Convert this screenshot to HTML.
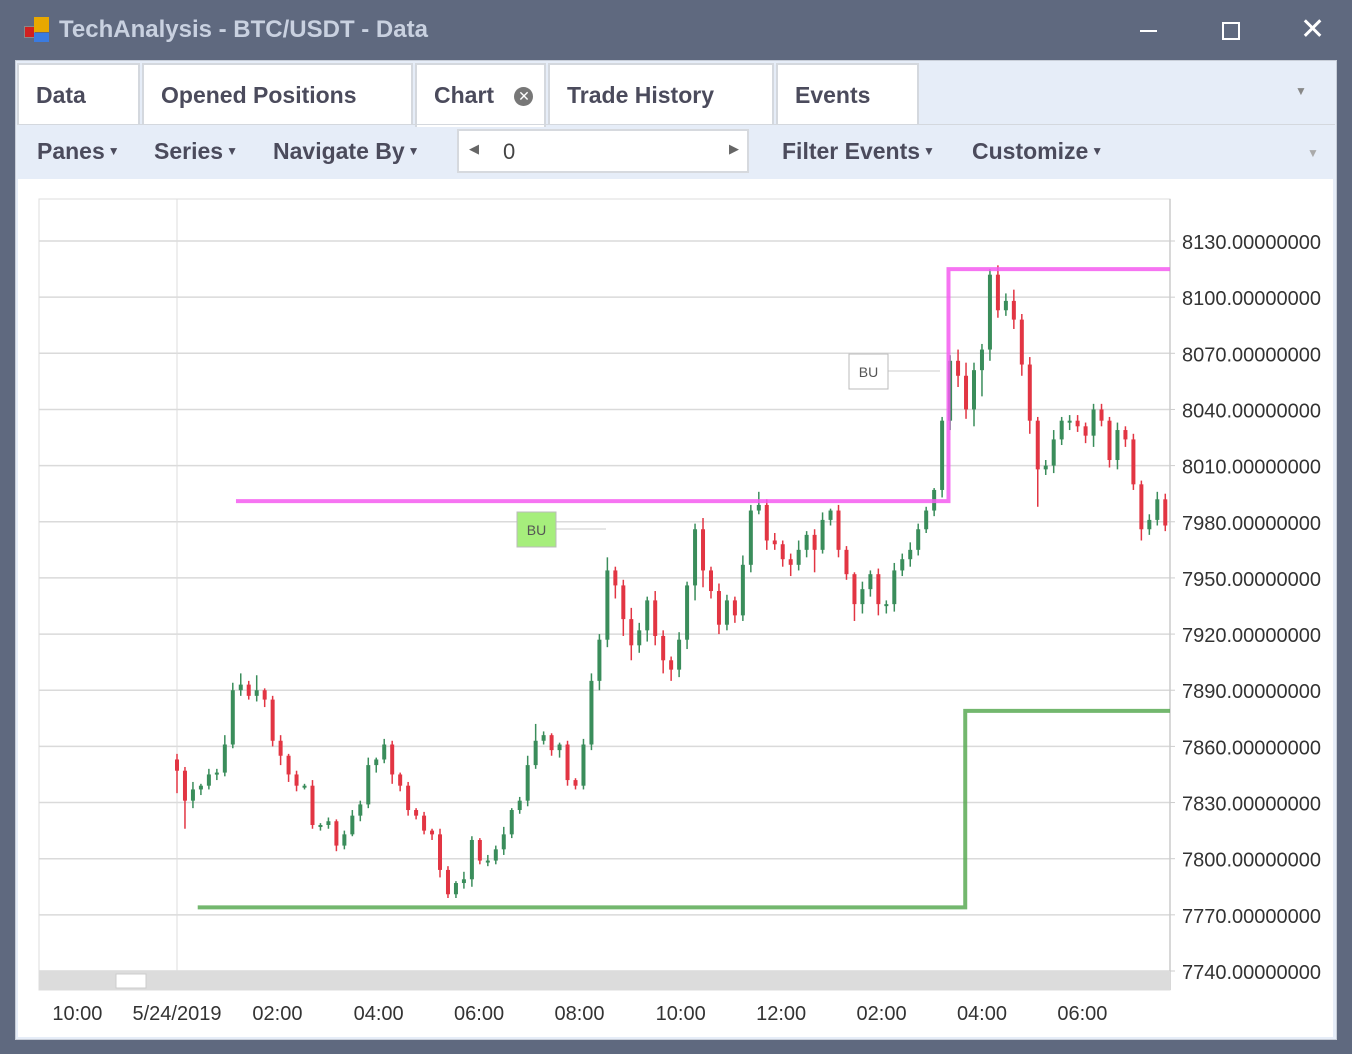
<!DOCTYPE html>
<html><head><meta charset="utf-8"><style>
body{margin:0;width:1352px;height:1054px;background:#5f697f;font-family:"Liberation Sans","DejaVu Sans",sans-serif;position:relative;overflow:hidden}
.abs{position:absolute}
.title{left:59px;top:16px;font-size:24px;font-weight:bold;color:#c9d1e0}
.panel{left:15px;top:60px;width:1322px;height:980px;background:#e6edf8;border:1px solid #c8ced8;box-sizing:border-box}
.tab{top:63px;height:62px;background:#fff;border:2px solid #d4d8de;border-bottom:none;box-sizing:border-box;font-size:23px;font-weight:bold;color:#4b4b5c;padding:17px 0 0 17px}
.tb{top:138px;font-size:23px;font-weight:bold;color:#4b4b5c}
.tb .c{font-size:12px;vertical-align:4px;margin-left:3px}
</style></head><body>
<div class="abs" style="left:24px;top:17px;width:26px;height:26px">
<div class="abs" style="left:0;top:9px;width:9px;height:10px;background:#d02020;border:1px solid #888"></div>
<div class="abs" style="left:10px;top:0;width:15px;height:15px;background:#e8a800"></div>
<div class="abs" style="left:10px;top:16px;width:15px;height:9px;background:#3a7be0"></div></div>
<div class="abs title">TechAnalysis - BTC/USDT - Data</div>
<div class="abs" style="left:1140px;top:30px;width:17px;height:2px;background:#fff"></div>
<div class="abs" style="left:1222px;top:22px;width:14px;height:14px;border:2px solid #fff"></div>
<div class="abs" style="left:1300px;top:12px;font-size:30px;color:#fff">✕</div>
<div class="abs panel"></div>
<div class="abs tab" style="left:17px;width:123px">Data</div>
<div class="abs tab" style="left:142px;width:271px">Opened Positions</div>
<div class="abs tab" style="left:415px;width:131px;height:64px">Chart <span style="display:inline-block;width:19px;height:19px;border-radius:50%;background:#777;color:#fff;font-size:14px;text-align:center;line-height:19px;margin-left:14px;vertical-align:2px">✕</span></div>
<div class="abs tab" style="left:548px;width:226px">Trade History</div>
<div class="abs tab" style="left:776px;width:143px">Events</div>
<div class="abs" style="left:1295px;top:84px;font-size:12px;color:#888">▼</div>
<div class="abs" style="left:17px;top:124px;width:1318px;height:1px;background:#d4d8de"></div>
<div class="abs tb" style="left:37px">Panes<span class="c">▼</span></div>
<div class="abs tb" style="left:154px">Series<span class="c">▼</span></div>
<div class="abs tb" style="left:273px">Navigate By<span class="c">▼</span></div>
<div class="abs" style="left:457px;top:129px;width:292px;height:44px;background:#fff;border:2px solid #d6d9de;box-sizing:border-box">
<span class="abs" style="left:10px;top:10px;font-size:13px;color:#666">◀</span>
<span class="abs" style="left:44px;top:8px;font-size:22px;color:#444">0</span>
<span class="abs" style="left:270px;top:10px;font-size:13px;color:#666">▶</span></div>
<div class="abs tb" style="left:782px">Filter Events<span class="c">▼</span></div>
<div class="abs tb" style="left:972px">Customize<span class="c">▼</span></div>
<div class="abs" style="left:1307px;top:146px;font-size:12px;color:#aaa">▼</div>
<div class="abs" style="left:18px;top:179px;width:1315px;height:858px;background:#fff"></div>
<svg class="abs" style="left:0;top:0" width="1352" height="1054" id="svg"></svg>
<script>
const yTicks=[8130,8100,8070,8040,8010,7980,7950,7920,7890,7860,7830,7800,7770,7740];
const xTickLabels=["10:00","5/24/2019","02:00","04:00","06:00","08:00","10:00","12:00","02:00","04:00","06:00"];
const xTickIndex=[-12.5,0,12.6,25.3,37.9,50.5,63.2,75.8,88.4,101,113.6];
const closes=[7847,7831,7837,7839,7845,7846,7861,7890,7893,7887,7890,7885,7863,7855,7845,7839,7839,7818,7818,7820,7807,7813,7823,7829,7850,7853,7861,7845,7839,7826,7823,7815,7813,7794,7781,7787,7789,7810,7799,7799,7805,7813,7826,7831,7850,7863,7866,7858,7861,7842,7839,7861,7895,7917,7954,7946,7928,7914,7922,7938,7919,7906,7901,7917,7946,7976,7954,7943,7925,7938,7930,7957,7986,7989,7970,7968,7960,7957,7965,7973,7965,7981,7986,7965,7952,7936,7944,7952,7936,7936,7954,7960,7965,7976,7986,7997,8034,8066,8058,8040,8061,8072,8112,8093,8098,8088,8064,8034,8008,8010,8024,8034,8034,8031,8026,8040,8034,8013,8029,8024,8000,7976,7981,7992,7978];
const firstOpen=7853;
const upWick=[3,2,4,1,3,2,5,4,6,2,8,1,2,3,1,2,1,3,1,2,1,2,3,2,4,1,3,2,1,2,1,2,1,3,2,1,4,2,1,3,2,4,1,2,5,9,2,1,1,2,1,3,4,3,7,2,3,6,4,2,5,3,2,4,2,3,6,2,4,3,2,5,3,7,3,4,2,3,5,2,3,4,1,3,2,1,4,2,3,2,4,3,4,3,2,1,2,3,6,7,4,3,3,5,4,6,3,4,2,3,5,2,3,3,2,3,3,2,4,2,3,2,3,4,3];
const dnWick=[12,15,4,3,2,3,2,2,3,2,3,4,3,5,4,3,2,2,3,2,3,2,1,3,2,4,2,5,3,3,2,2,3,4,2,2,3,4,2,3,2,3,2,2,3,2,2,3,4,3,2,2,3,5,4,7,9,8,4,6,5,7,6,4,5,8,9,4,5,3,4,3,4,2,5,3,4,6,3,4,12,2,3,4,3,9,5,4,6,5,4,3,4,3,2,3,4,5,6,5,9,14,6,4,3,5,6,7,20,3,4,3,5,3,4,6,3,4,5,4,3,6,3,3,3];
const pinkStart=7.4,pinkStep=96.8,pinkLevels=[7991,8115];
const greenStart=2.6,greenStep=98.9,greenLevels=[7774,7879];
const svg=document.getElementById('svg');const NS='http://www.w3.org/2000/svg';
const L=39,R=1170,T=199,B=990;
const yS=p=>241+(8130-p)*(730/390);
const xS=i=>177+i*7.97;
function mk(t,a){const e=document.createElementNS(NS,t);for(const k in a)e.setAttribute(k,a[k]);svg.appendChild(e);return e;}
let e=mk('rect',{x:L,y:T,width:R-L,height:B-T,fill:'none',stroke:'#ddd'});


yTicks.forEach(v=>{const y=yS(v);
 let g=mk('line',{x1:L,x2:R,y1:y,y2:y,stroke:'#dadada','stroke-width':1.5});
 
 
 mk('line',{x1:R,x2:R+5,y1:y,y2:y,stroke:'#ccc'});
 let t=mk('text',{x:1182,y:y+8,'font-size':20,fill:'#333','font-family':'Liberation Sans, sans-serif'});t.textContent=v.toFixed(8);
 
 
});
mk('line',{x1:R,x2:R,y1:T,y2:B,stroke:'#ccc','stroke-width':1.5});
let vl=mk('line',{x1:177,x2:177,y1:T,y2:971,stroke:'#ddd'});


let sb=mk('rect',{x:L,y:971,width:R-L,height:19,fill:'#dcdcdc'});


let th=mk('rect',{x:116,y:974,width:30,height:14,fill:'#fff',stroke:'#ccc'});


xTickLabels.forEach((s,k)=>{const x=xS(xTickIndex[k]);
 let t=mk('text',{x:x,y:1020,'font-size':20,fill:'#333','text-anchor':'middle','font-family':'Liberation Sans, sans-serif'});t.textContent=s;
 
 
});
function step(start,stp,lv,col,name){const x0=xS(start),x1=xS(stp);
 let p=mk('polyline',{points:`${x0},${yS(lv[0])} ${x1},${yS(lv[0])} ${x1},${yS(lv[1])} ${R},${yS(lv[1])}`,fill:'none',stroke:col,'stroke-width':4,opacity:0.85});
 
 }
let prev=firstOpen;
closes.forEach((c,i)=>{const o=prev;prev=c;const x=xS(i);
 const hi=Math.max(o,c)+upWick[i],lo=Math.min(o,c)-dnWick[i];
 const col=c>=o?'#3a8d5b':'#e23543';
 let w=mk('line',{x1:x,x2:x,y1:yS(hi),y2:yS(lo),stroke:col,'stroke-width':1.5});
 
 
 const yt=yS(Math.max(o,c)),yb=yS(Math.min(o,c));
 let b=mk('rect',{x:x-2,y:yt,width:4,height:Math.max(2,yb-yt),fill:col});
 
 
});
step(pinkStart,pinkStep,pinkLevels,'#f55cf0','resistance-line');
step(greenStart,greenStep,greenLevels,'#5aaa55','support-line');
function bu(x,y,fill,lx,name){let l=mk('line',{x1:x+39,x2:lx,y1:y+17,y2:y+17,stroke:'#ccc'});
 let r=mk('rect',{x:x,y:y,width:39,height:35,fill:fill,stroke:'#bbb'});
 
 
 let t=mk('text',{x:x+19.5,y:y+23,'font-size':14,fill:'#555','text-anchor':'middle','font-family':'Liberation Sans, sans-serif'});t.textContent='BU';}
bu(517,512,'#a6ee7c',606,'bu-annotation-1');
bu(849,354,'#fff',940,'bu-annotation-2');
</script>
</body></html>
